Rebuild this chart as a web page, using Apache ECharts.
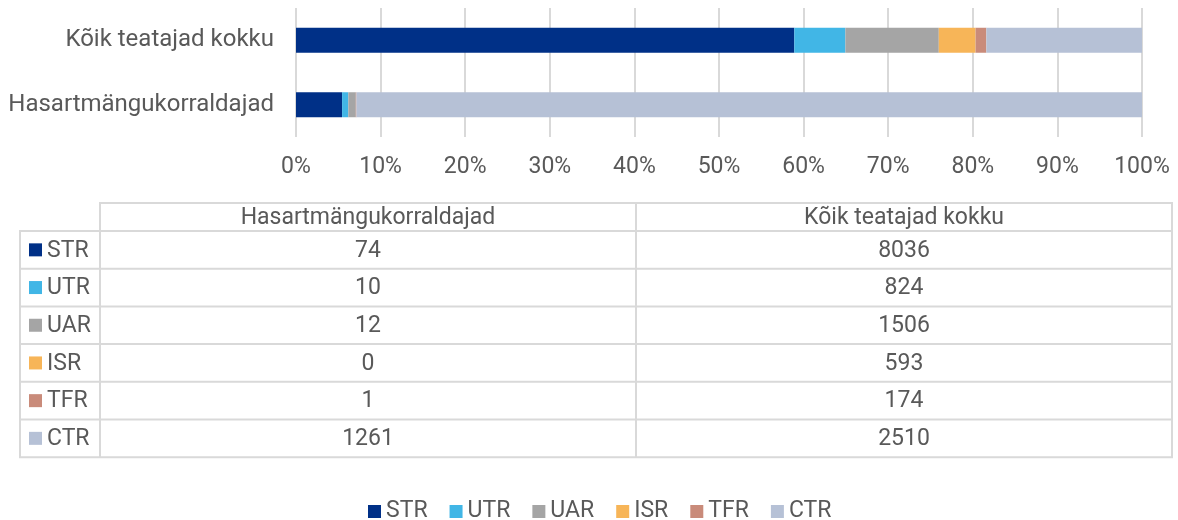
<!DOCTYPE html>
<html><head><meta charset="utf-8">
<script src="https://cdn.jsdelivr.net/npm/echarts@6/dist/echarts.min.js"></script>
<style>html,body{margin:0;padding:0;background:#fff}#c{width:1178px;height:520px}</style>
</head><body><div id="c"></div>
<script>
const categories = ['Hasartmängukorraldajad', 'Kõik teatajad kokku'];
const seriesNames = ['STR', 'UTR', 'UAR', 'ISR', 'TFR', 'CTR'];
const colors = ['#003087', '#41B6E6', '#A5A5A5', '#F7B558', '#C98B7A', '#B6C1D6'];
const hasart = [74, 10, 12, 0, 1, 1261];
const koik = [8036, 824, 1506, 593, 174, 2510];
const tickLabels = ['0%','10%','20%','30%','40%','50%','60%','70%','80%','90%','100%'];

const raw = [hasart, koik];
const totals = raw.map(r => r.reduce((a, b) => a + b, 0));
const FONT = 'Roboto';
const TXT = '#595959';
const BORDER = '#D9D9D9';

const series = seriesNames.map((n, i) => ({
  name: n, type: 'bar', stack: 'all', barWidth: 25,
  itemStyle: { color: colors[i] },
  data: raw.map((r, k) => r[i] / totals[k] * 100)
}));

// table built from data arrays
const tbl = { x0: 20, xL: 100, xs: [100, 636, 1172], yHead: 203, y0: 231, rowH: 37.7 };
const els = [];
const yEnd = tbl.y0 + tbl.rowH * seriesNames.length;
els.push({ type: 'rect', shape: { x: tbl.xL, y: tbl.yHead, width: tbl.xs[2] - tbl.xL, height: tbl.y0 - tbl.yHead }, style: { fill: 'none', stroke: BORDER, lineWidth: 2 } });
els.push({ type: 'line', shape: { x1: tbl.xs[1], y1: tbl.yHead, x2: tbl.xs[1], y2: yEnd }, style: { stroke: BORDER, lineWidth: 2 } });
els.push({ type: 'rect', shape: { x: tbl.x0, y: tbl.y0, width: tbl.xs[2] - tbl.x0, height: yEnd - tbl.y0 }, style: { fill: 'none', stroke: BORDER, lineWidth: 2 } });
els.push({ type: 'line', shape: { x1: tbl.xL, y1: tbl.y0, x2: tbl.xL, y2: yEnd }, style: { stroke: BORDER, lineWidth: 2 } });
const colOrder = [0, 1];
colOrder.forEach((ci, j) => {
  els.push({ type: 'text', x: (tbl.xs[j] + tbl.xs[j + 1]) / 2, y: (tbl.yHead + tbl.y0) / 2 + 1,
    style: { text: categories[ci], font: '23px ' + FONT, fill: TXT, align: 'center', verticalAlign: 'middle' } });
});
seriesNames.forEach((n, i) => {
  const yT = tbl.y0 + tbl.rowH * i;
  const yc = yT + tbl.rowH / 2;
  if (i > 0) els.push({ type: 'line', shape: { x1: tbl.x0, y1: yT, x2: tbl.xs[2], y2: yT }, style: { stroke: BORDER, lineWidth: 2 } });
  els.push({ type: 'rect', shape: { x: 29, y: yc - 6.5, width: 13, height: 13 }, style: { fill: colors[i] } });
  els.push({ type: 'text', x: 47, y: yc + 1, style: { text: n, font: '23px ' + FONT, fill: TXT, align: 'left', verticalAlign: 'middle' } });
  colOrder.forEach((ci, j) => {
    els.push({ type: 'text', x: (tbl.xs[j] + tbl.xs[j + 1]) / 2, y: yc + 1,
      style: { text: String(raw[ci][i]), font: '23px ' + FONT, fill: TXT, align: 'center', verticalAlign: 'middle' } });
  });
});

const chart = echarts.init(document.getElementById('c'), null, { renderer: 'canvas' });
chart.setOption({
  animation: false,
  textStyle: { fontFamily: FONT },
  grid: { left: 296, right: 36, top: 8, height: 129, containLabel: false },
  xAxis: {
    type: 'value', min: 0, max: 100, interval: 10,
    axisLabel: { formatter: v => tickLabels[Math.round(v / 10)], color: TXT, fontSize: 23, margin: 19, fontFamily: FONT },
    axisLine: { show: false }, axisTick: { show: false },
    splitLine: { lineStyle: { color: BORDER, width: 2 } }
  },
  yAxis: {
    type: 'category', data: categories,
    axisLabel: { color: TXT, fontSize: 24, margin: 22, fontFamily: FONT },
    axisLine: { show: false }, axisTick: { show: false }
  },
  legend: {
    data: seriesNames, top: 495, left: 363, icon: 'rect', itemWidth: 13, itemHeight: 13, itemGap: 22,
    textStyle: { color: TXT, fontSize: 23, fontFamily: FONT, padding: [2, 0, 0, 0] }
  },
  graphic: els,
  series
});
</script></body></html>
